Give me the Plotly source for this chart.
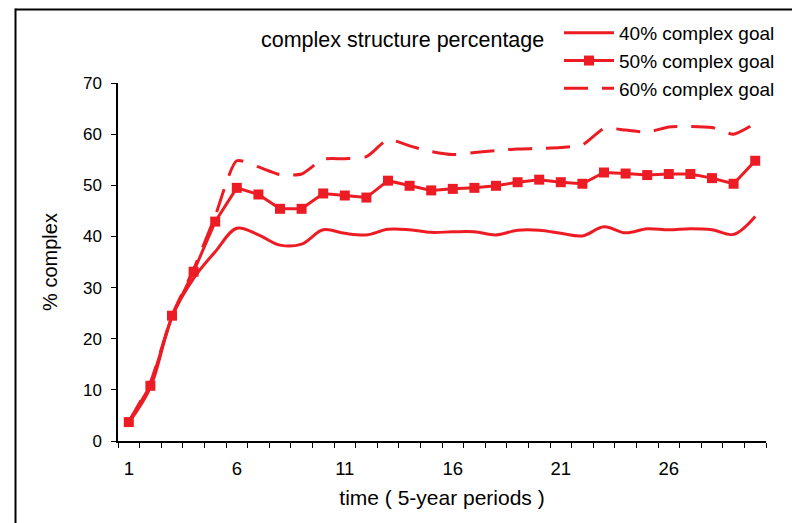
import plotly.graph_objects as go

periods = list(range(1, 31))
goal40 = [3.6, 10.5, 24.3, 31.8, 37.0, 41.6, 40.3, 38.3, 38.5, 41.3,
          40.6, 40.3, 41.4, 41.3, 40.8, 40.9, 40.9, 40.3, 41.2, 41.2,
          40.6, 40.1, 41.9, 40.7, 41.5, 41.3, 41.5, 41.3, 40.4, 43.9]
goal50 = [3.7, 10.8, 24.5, 33.1, 42.9, 49.5, 48.2, 45.4, 45.4, 48.4,
          48.0, 47.6, 50.9, 49.9, 49.0, 49.3, 49.5, 49.9, 50.6, 51.1,
          50.6, 50.3, 52.5, 52.3, 52.0, 52.2, 52.2, 51.4, 50.3, 54.8]
goal60 = [3.8, 11.5, 24.5, 33.6, 44.0, 54.8, 53.6, 52.1, 52.2, 55.1,
          55.2, 55.6, 58.9, 57.7, 56.6, 56.0, 56.4, 56.8, 57.1, 57.2,
          57.4, 57.9, 61.1, 60.8, 60.4, 61.4, 61.5, 61.3, 60.0, 62.1]
series_names = ["40% complex goal", "50% complex goal", "60% complex goal"]
xtick_vals = [1, 6, 11, 16, 21, 26]
ytick_vals = [0, 10, 20, 30, 40, 50, 60, 70]

RED = "#ED1C24"
FONT = "Liberation Sans, Arial, sans-serif"

fig = go.Figure()
fig.add_trace(go.Scatter(x=periods, y=goal40, name=series_names[0], mode="lines",
                         line=dict(color=RED, width=3, shape="spline", smoothing=1.0)))
fig.add_trace(go.Scatter(x=periods, y=goal50, name=series_names[1], mode="lines+markers",
                         line=dict(color=RED, width=3),
                         marker=dict(symbol="square", size=10, color=RED)))
fig.add_trace(go.Scatter(x=periods, y=goal60, name=series_names[2], mode="lines",
                         line=dict(color=RED, width=3, dash="24px,14px",
                                   shape="spline", smoothing=0.6)))

L, R, T, B = 118, 26, 83, 82
W, H = 792, 523
pw, ph = W - L - R, H - T - B

def px(x):
    return (x - L) / pw

def py(y):
    return (H - B - y) / ph

fig.update_layout(
    width=W, height=H,
    margin=dict(l=L, r=R, t=T, b=B, autoexpand=False),
    paper_bgcolor="white", plot_bgcolor="white",
    font=dict(family=FONT, size=15, color="black"),
    showlegend=True,
    legend=dict(x=px(559), y=py(14), xanchor="left", yanchor="top",
                font=dict(size=19), itemwidth=50, bgcolor="rgba(0,0,0,0)",
                tracegroupgap=0),
    xaxis=dict(range=[0.5, 30.5], tickmode="array", tickvals=xtick_vals,
               automargin=False,
               ticks="outside", ticklen=10, tickcolor="rgba(0,0,0,0)",
               showline=True, linecolor="black", linewidth=1.5,
               showgrid=False, zeroline=False, tickfont=dict(size=18.5),
               minor=dict(ticks="outside", tick0=0.5, dtick=1, ticklen=5,
                          tickcolor="black", showgrid=False),
               title=dict(text="time ( 5-year periods )", font=dict(size=21), standoff=12)),
    yaxis=dict(range=[0, 70], tickmode="array", tickvals=ytick_vals,
               automargin=False,
               ticks="outside", ticklen=5, tickcolor="black",
               showline=True, linecolor="black", linewidth=1.5,
               showgrid=False, zeroline=False, tickfont=dict(size=17),
               ticklabelstandoff=6,
               title=dict(text="% complex", font=dict(size=20), standoff=20)),
    annotations=[dict(text="complex structure percentage", xref="paper", yref="paper",
                      x=px(259), y=py(40), xanchor="left", yanchor="middle",
                      showarrow=False, font=dict(size=21.5))],
    shapes=[
        dict(type="line", xref="paper", yref="paper", x0=px(15.5), x1=px(810),
             y0=py(9.5), y1=py(9.5), line=dict(color="black", width=2), layer="above"),
        dict(type="line", xref="paper", yref="paper", x0=px(15.5), x1=px(15.5),
             y0=py(8.5), y1=py(540), line=dict(color="black", width=2), layer="above"),
    ],
)

fig.write_html("out.html", config={"displayModeBar": False},
               post_script="document.body.style.margin='0';document.body.style.padding='0';document.body.style.overflow='hidden';")
